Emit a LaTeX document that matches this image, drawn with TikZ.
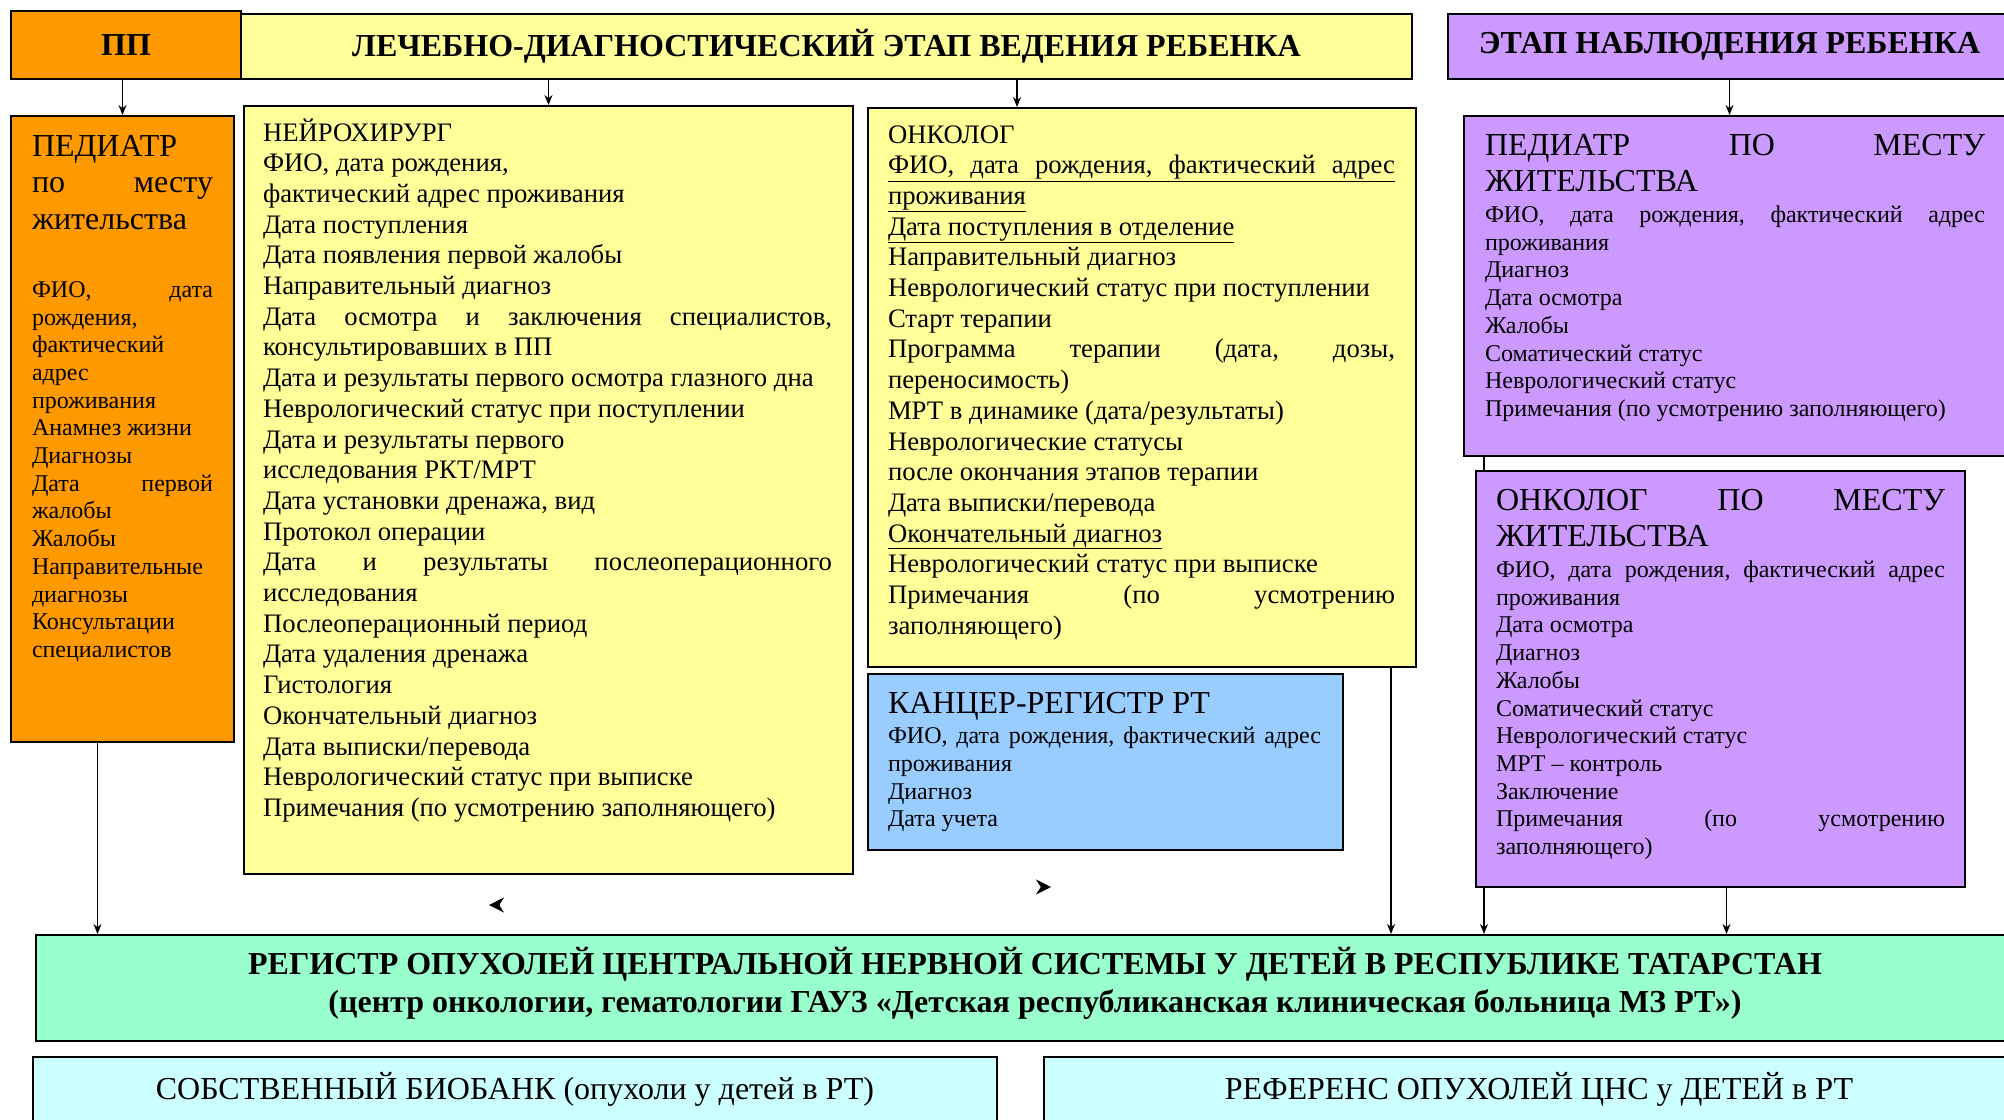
\documentclass[tikz,border=0pt]{standalone}
\usepackage{fontspec}
\setmainfont{Liberation Serif}
\usepackage{tikz}
\usetikzlibrary{arrows.meta}

\definecolor{ppcol}{HTML}{FF9900}
\definecolor{lechcol}{HTML}{FFFF99}
\definecolor{nablcol}{HTML}{CC99FF}
\definecolor{kancol}{HTML}{99CCFF}
\definecolor{regcol}{HTML}{99FFCC}
\definecolor{bankcol}{HTML}{CCFFFF}

\newcommand{\hdrfont}{\fontsize{32}{38}\selectfont\bfseries}
\newcommand{\ttlfont}{\fontsize{32}{36.8}\selectfont\spaceskip=0pt\xspaceskip=0pt\relax}
\newcommand{\bigtxt}{\fontsize{26.7}{30.7}\selectfont\spaceskip=0pt\xspaceskip=0pt\relax}
\newcommand{\smalltxt}{\fontsize{24}{27.7}\selectfont\spaceskip=0pt\xspaceskip=0pt\relax}
\newcommand{\jline}[1]{\makebox[\hsize][s]{\spaceskip=.25em plus 1fil\relax #1}}
\setlength{\parindent}{0pt}
\frenchspacing

\begin{document}
\begin{tikzpicture}[x = 1pt, y = -1pt, line width = 2pt,
                        box/.style = {rectangle, draw, anchor = north west, inner sep = 0pt},
                        txt/.style = {anchor = base west, inner sep = 0pt, align = left},
                        arr/.style = {line width = 1.2pt, -{Stealth[length = 10pt, width = 8pt]}},
                        stray/.style = {line width = 1.5pt, -{Stealth[length = 15pt, width = 15pt]}}]
      \useasboundingbox (0, 0) rectangle (2004, 1119);
      \node [box, fill = ppcol, minimum width = 230, minimum height = 68] (pp) at (10, 10){\hdrfont ПП};
      \node [box, fill = lechcol, minimum width = 1171, minimum height = 65] (lech) at (240, 13){\hdrfont ЛЕЧЕБНО-ДИАГНОСТИЧЕСКИЙ ЭТАП ВЕДЕНИЯ РЕБЕНКА};
      \node [box, fill = nablcol, minimum width = 563, minimum height = 65] (nabl) at (1447, 13){\hdrfont ЭТАП НАБЛЮДЕНИЯ РЕБЕНКА};
      \node [box, fill = ppcol, minimum width = 223, minimum height = 626] (ped) at (10, 115){};
      \node [txt, text width = 181] (pedtxt) at (31, 156){{\ttlfont ПЕДИАТР\\ \jline{по месту}\\ жительства\par}\vspace{40pt}{\smalltxt \jline{ФИО, дата}\\ рождения,\\ фактический\\ адрес\\ проживания\\ Анамнез жизни\\ Диагнозы\\ \jline{Дата первой}\\ жалобы\\ Жалобы\\ Направительные\\ диагнозы\\ Консультации\\ специалистов\par}};
      \node [box, fill = lechcol, minimum width = 609, minimum height = 768] (neuro) at (243, 105){};
      \node [txt, text width = 569] (neurotxt) at (262, 141){{\bigtxt НЕЙРОХИРУРГ\\ ФИО, дата рождения,\\ фактический адрес проживания\\ Дата поступления\\ Дата появления первой жалобы\\ Направительный диагноз\\ \jline{Дата осмотра и заключения специалистов,}\\ консультировавших в ПП\\ Дата и результаты первого осмотра глазного дна\\ Неврологический статус при поступлении\\ Дата и результаты первого\\ исследования РКТ/МРТ\\ Дата установки дренажа, вид\\ Протокол операции\\ \jline{Дата и результаты послеоперационного}\\ исследования\\ Послеоперационный период\\ Дата удаления дренажа\\ Гистология\\ Окончательный диагноз\\ Дата выписки/перевода\\ Неврологический статус при выписке\\ Примечания (по усмотрению заполняющего)\par}};
      \node [box, fill = lechcol, minimum width = 548, minimum height = 559] (onco) at (867, 107){};
      \node [txt, text width = 507] (oncotxt) at (887, 143){{\bigtxt ОНКОЛОГ\\ \underline{\jline{ФИО, дата рождения, фактический адрес}}\\ \underline{проживания}\\ \underline{Дата поступления в отделение}\\ Направительный диагноз\\ Неврологический статус при поступлении\\ Старт терапии\\ \jline{Программа терапии (дата, дозы,}\\ переносимость)\\ МРТ в динамике (дата/результаты)\\ Неврологические статусы\\ после окончания этапов терапии\\ Дата выписки/перевода\\ \underline{Окончательный диагноз}\\ Неврологический статус при выписке\\ \jline{Примечания (по усмотрению}\\ заполняющего)\par}};
      \node [box, fill = kancol, minimum width = 475, minimum height = 176] (kanc) at (867, 673){};
      \node [txt, text width = 433] (kanctxt) at (887, 713){{\ttlfont КАНЦЕР-РЕГИСТР РТ\par}\vspace{3pt}{\smalltxt \jline{ФИО, дата рождения, фактический адрес}\\ проживания\\ Диагноз\\ Дата учета\par}};
      \node [box, fill = regcol, minimum width = 2001, minimum height = 106] (reg) at (35, 934){};
      \node [align = center, font = \hdrfont] (regtxt) at (1035, 983){РЕГИСТР ОПУХОЛЕЙ ЦЕНТРАЛЬНОЙ НЕРВНОЙ СИСТЕМЫ У ДЕТЕЙ В РЕСПУБЛИКЕ ТАТАРСТАН\\(центр онкологии, гематологии ГАУЗ «Детская республиканская клиническая больница МЗ РТ»)};
      \node [box, fill = bankcol, minimum width = 964, minimum height = 64] (bank) at (32, 1056){\ttlfont СОБСТВЕННЫЙ БИОБАНК (опухоли у детей в РТ)};
      \node [box, fill = bankcol, minimum width = 990, minimum height = 64] (refer) at (1043, 1056){\ttlfont РЕФЕРЕНС ОПУХОЛЕЙ ЦНС у ДЕТЕЙ в РТ};
      \node [box, fill = nablcol, minimum width = 567, minimum height = 340] (pedres) at (1463, 115){};
      \node [txt, text width = 500] (pedrestxt) at (1484, 155){{\ttlfont\jline{ПЕДИАТР ПО МЕСТУ}\\ ЖИТЕЛЬСТВА\par}\vspace{3pt}{\smalltxt \jline{ФИО, дата рождения, фактический адрес}\\ проживания\\ Диагноз\\ Дата осмотра\\ Жалобы\\ Соматический статус\\ Неврологический статус\\ Примечания (по усмотрению заполняющего)\par}};
      \coordinate (pedresout) at ([xshift = 21pt]pedres.south west);
      \draw [arr] (pedresout) -- (pedresout |- reg.north);
      \node [box, fill = nablcol, minimum width = 489, minimum height = 416] (oncres) at (1475, 470){};
      \node [txt, text width = 449] (oncrestxt) at (1495, 510){{\ttlfont\jline{ОНКОЛОГ ПО МЕСТУ}\\ ЖИТЕЛЬСТВА\par}\vspace{3pt}{\smalltxt \jline{ФИО, дата рождения, фактический адрес}\\ проживания\\ Дата осмотра\\ Диагноз\\ Жалобы\\ Соматический статус\\ Неврологический статус\\ МРТ – контроль\\ Заключение\\ \jline{Примечания (по усмотрению}\\ заполняющего)\par}};
      \coordinate (oncoin) at ([xshift = 150pt]onco.north west);
      \coordinate (pedout) at ([xshift = -25pt]ped.south);
      \coordinate (oncoout) at ([xshift = -26pt]onco.south east);
      \coordinate (oncresout) at ([xshift = 6pt]oncres.south);
      \coordinate (strayl) at (489, 905);
      \coordinate (strayr) at (1051, 887);
      \draw [arr] (ped.north |- pp.south) -- (ped.north);
      \draw [arr] (neuro.north |- lech.south) -- (neuro.north);
      \draw [arr] (oncoin |- lech.south) -- (oncoin);
      \draw [arr] (nabl.south) -- (nabl.south |- pedres.north);
      \draw [arr] (pedout) -- (pedout |- reg.north);
      \draw [arr] (oncoout) -- (oncoout |- reg.north);
      \draw [arr] (oncresout) -- (oncresout |- reg.north);
      \draw [stray] ([xshift = 10pt]strayl) -- (strayl);
      \draw [stray] ([xshift = -10pt]strayr) -- (strayr);
    \end{tikzpicture}
\end{document}
